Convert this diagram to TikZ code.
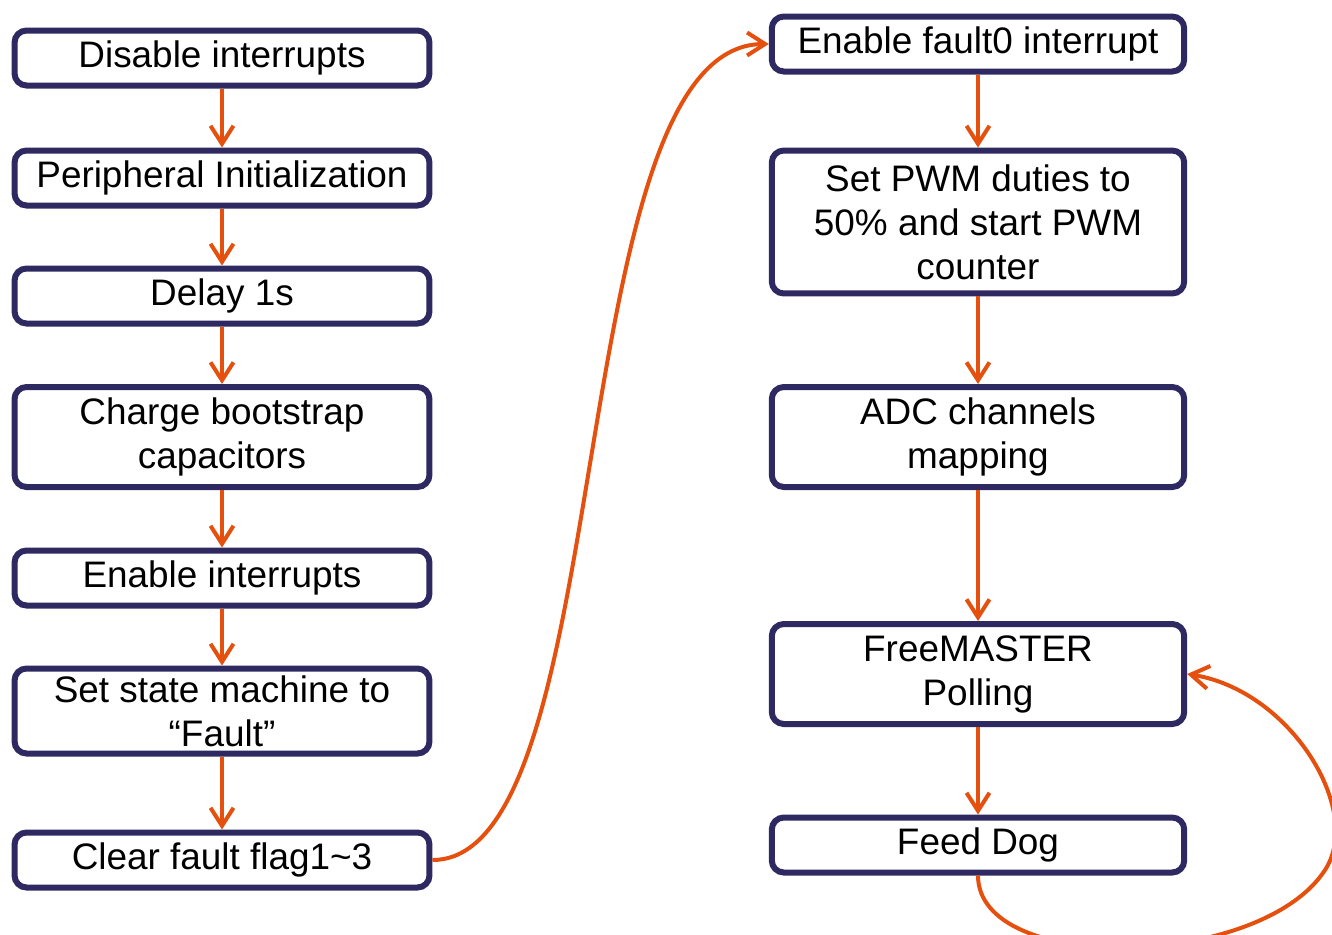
\documentclass[tikz,border=0pt]{standalone}
\usepackage{fontspec}
\setmainfont{Liberation Sans}
\usetikzlibrary{arrows.meta}
\definecolor{boxnavy}{HTML}{2E2A61}
\definecolor{flowred}{HTML}{E5500F}

\begin{document}
\begin{tikzpicture}[x=0.02cm,y=-0.02cm,
    stepbox/.style={draw=boxnavy, line width=0.12cm, rounded corners=0.24cm,
        fill=white, minimum width=8.3cm, minimum height=1.1cm, align=center,
        inner sep=0pt, font=\fontsize{21}{25}\selectfont},
    flow/.style={draw=flowred, line width=0.08cm,
        -{Straight Barb[length=0.36cm, width=0.46cm, line width=0.08cm]}}]
    \useasboundingbox (0,0) rectangle (1332,934);
    % left column
    \node[stepbox] (dis) at (222,58) {\raisebox{-2pt}{Disable interrupts}};
    \node[stepbox] (per) at (222,178) {\raisebox{-2pt}{Peripheral Initialization}};
    \node[stepbox] (del) at (222,296) {\raisebox{-2pt}{Delay 1s}};
    \node[stepbox, minimum height=2.0cm] (chg) at (222,437) {Charge bootstrap\\capacitors};
    \node[stepbox] (ena) at (222,578) {\raisebox{-2pt}{Enable interrupts}};
    \node[stepbox, minimum height=1.7cm] (sta) at (222,711) {Set state machine to\\“Fault”};
    \node[stepbox] (clr) at (222,860) {\raisebox{-2pt}{Clear fault flag1\char"007E 3}};
    % right column
    \node[stepbox, minimum width=8.25cm] (flt) at (978,44) {\raisebox{-2pt}{Enable fault0 interrupt}};
    \node[stepbox, minimum width=8.25cm, minimum height=2.86cm] (pwm) at (978,222) {Set PWM duties to\\50\% and start PWM\\counter};
    \node[stepbox, minimum width=8.25cm, minimum height=2.0cm] (adc) at (978,437) {ADC channels\\mapping};
    \node[stepbox, minimum width=8.25cm, minimum height=2.0cm] (fm) at (978,674) {FreeMASTER\\Polling};
    \node[stepbox, minimum width=8.25cm] (dog) at (978,845) {\raisebox{-2pt}{Feed Dog}};

    \draw[flow] (dis) -- (per);
    \draw[flow] (per) -- (del);
    \draw[flow] (del) -- (chg);
    \draw[flow] (chg) -- (ena);
    \draw[flow] (ena) -- (sta);
    \draw[flow] (sta) -- (clr);
    \draw[flow] (clr.east) .. controls (620,860) and (560,44) .. (flt.west);
    \draw[flow] (flt) -- (pwm);
    \draw[flow] (pwm) -- (adc);
    \draw[flow] (adc) -- (fm);
    \draw[flow] (fm) -- (dog);
    % loop back to polling
    \draw[flow] (dog.south) .. controls (978,975) and (1260,970) .. (1325,870)
        .. controls (1364,810) and (1290,690) .. (fm.east);
\end{tikzpicture}
\end{document}
